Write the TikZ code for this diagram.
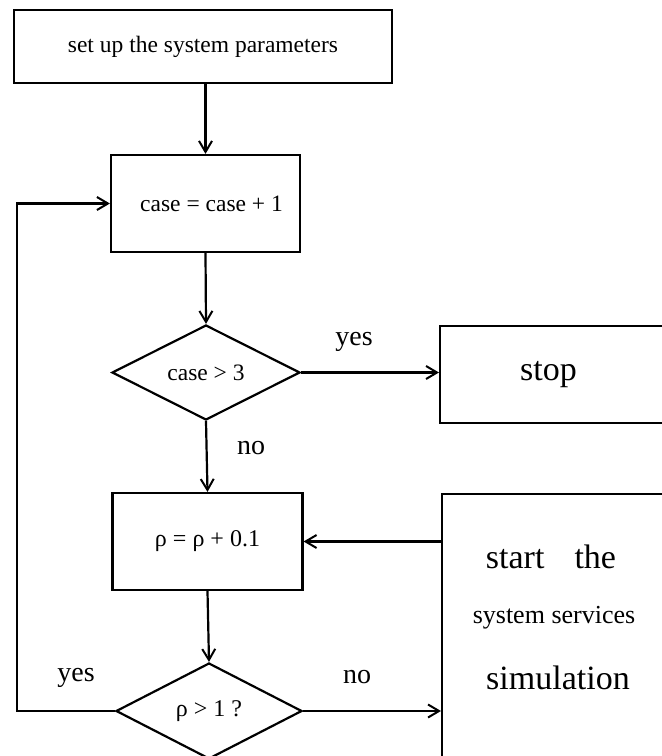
\documentclass[tikz,border=0pt]{standalone}
\usepackage{fontspec}
\setmainfont{Liberation Serif}
\usetikzlibrary{shapes.geometric,arrows.meta}
\newcommand{\myfs}[1]{\fontsize{#1}{#1}\selectfont}
\begin{document}
\begin{tikzpicture}[x=1pt,y=-1pt,
  line width=2.2pt,
  box/.style={draw, rectangle, inner sep=0pt},
  dia/.style={draw, diamond, aspect=2, inner sep=0pt},
  arr/.style={-{Straight Barb[length=11pt,width=13pt,line width=2pt]}},
  lbl/.style={inner sep=0pt, font={\myfs{28}}}]
\useasboundingbox (0,0) rectangle (662,756);
\clip (0,0) rectangle (662,756);

\node[box, minimum width=378pt, minimum height=73pt, font={\myfs{23.5}}] (setup) at (203,46.5) {set up the system parameters};
\node[box, minimum width=189pt, minimum height=97pt, font={\myfs{23.5}}] (inc) at (205.5,203.5) {\hspace*{12pt}case = case + 1};
\node[dia, minimum width=188pt, minimum height=95pt, font={\myfs{23.5}}] (d1) at (206,372.5) {case > 3};
\node[box, anchor=north west, minimum height=97pt, text width=100pt, inner xsep=80pt, align=left, font={\myfs{34}}] (stop) at (439,325) {stop};
\node[box, minimum width=190pt, minimum height=97pt, font={\myfs{24}}] (rho) at (207.5,541.5) {ρ = ρ + 0.1};
\node[box, anchor=north west, minimum width=260pt, minimum height=320pt] (sim) at (441,493) {};
\node[inner sep=0pt, font={\myfs{34}}] (t1) at (551,557) {start\hspace{30pt}the};
\node[inner sep=0pt, font={\myfs{26}}] (t2) at (554,618) {system services};
\node[inner sep=0pt, font={\myfs{34}}] (t3) at (558,678) {simulation};
\node[dia, minimum width=186pt, minimum height=96pt, font={\myfs{24}}] (d2) at (209,711) {ρ > 1 ?};

\node[lbl] (yes1) at (354,342) {yes};
\node[lbl] (no1) at (251,448) {no};
\node[lbl] (yes2) at (76,678) {yes};
\node[lbl] (no2) at (357,677) {no};

\draw[arr] (setup.south -| inc.north) -- (inc.north);
\draw[arr] (inc.south) -- (d1.north);
\draw[arr] (d1.east) -- (d1.east -| stop.west);
\draw[arr] (d1.south) -- (rho.north);
\draw[arr] (rho.south) -- (d2.north);
\draw[arr] (rho.east -| sim.west) -- (rho.east);
\draw[arr] (d2.east) -- (d2.east -| sim.west);
\coordinate (lp) at (17,711);
\draw[arr] (d2.west) -- (lp) |- (inc.west);
\end{tikzpicture}
\end{document}
